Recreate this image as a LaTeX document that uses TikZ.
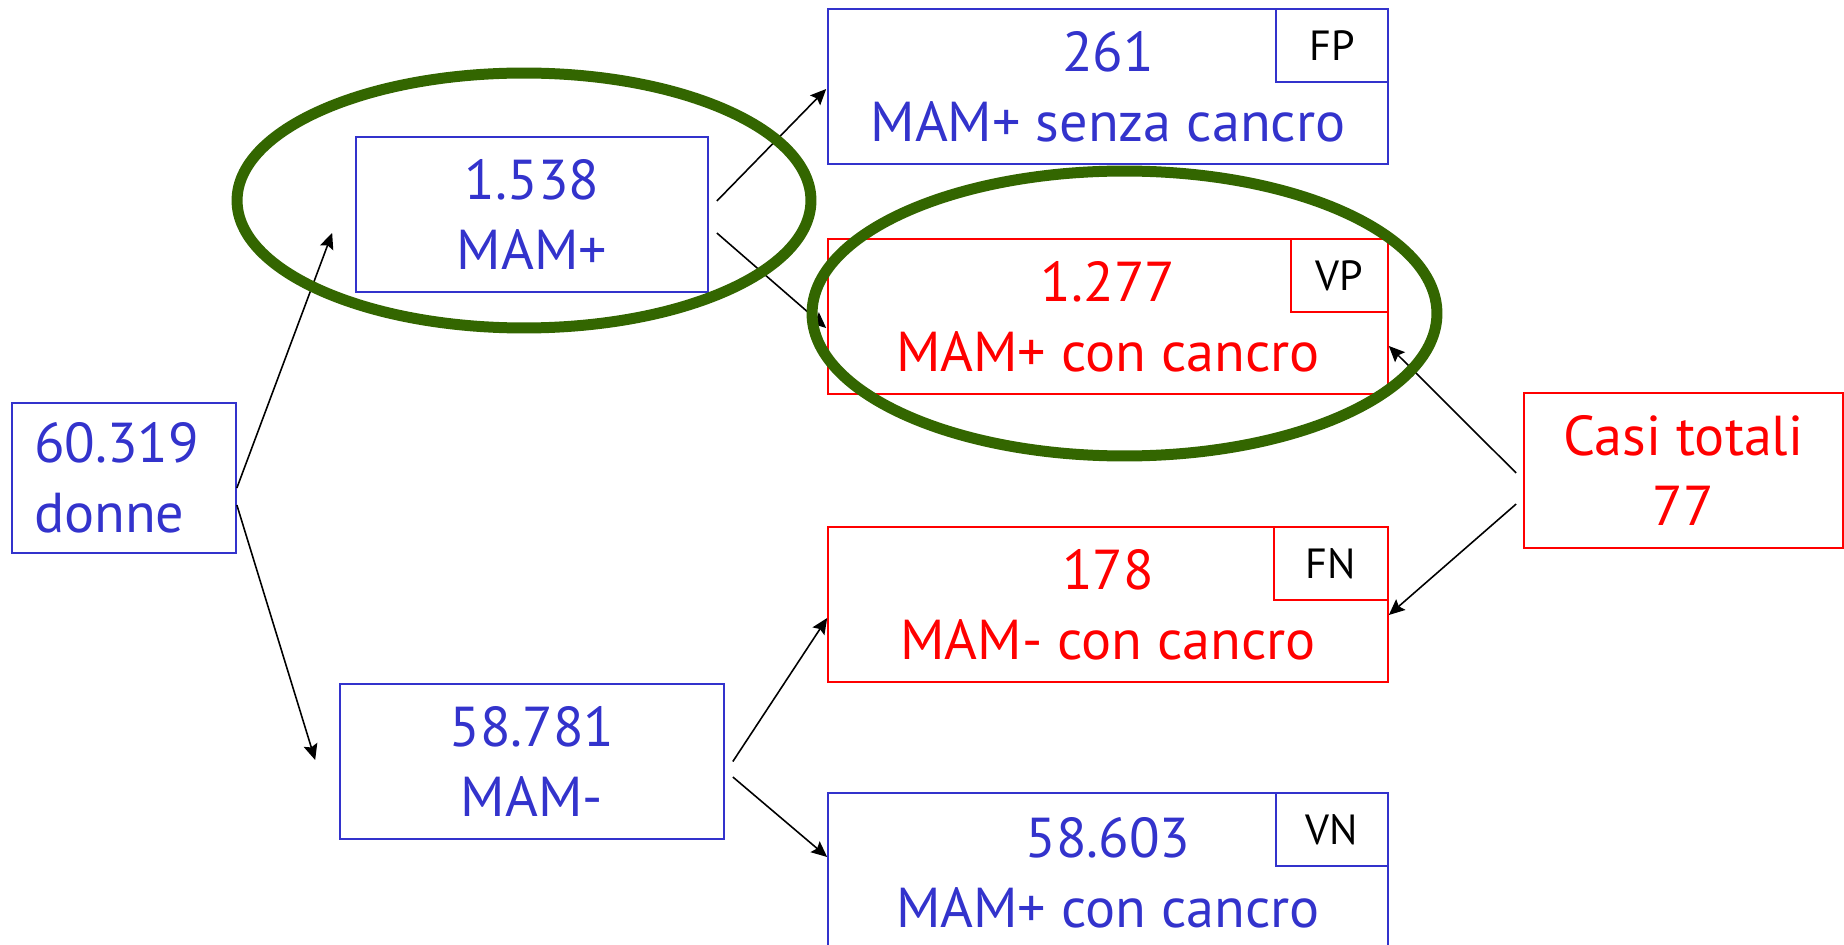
\documentclass[tikz,border=0pt]{standalone}
\usepackage{fontspec}
\setmainfont{PT Sans}
\usetikzlibrary{arrows.meta,calc}
\definecolor{blau}{RGB}{51,51,204}
\definecolor{rot}{RGB}{255,0,0}
\definecolor{gruen}{RGB}{51,102,0}
\begin{document}
\begin{tikzpicture}[
x=0.02cm, y=-0.02cm,
>={Stealth[length=9pt,width=8pt,inset=1.5pt]},
kasten/.style={draw=blau, text=blau, line width=1pt, align=center, inner sep=0pt, minimum height=3.1cm, font=\fontsize{32}{40}\selectfont},
rotkasten/.style={kasten, draw=rot, text=rot},
marke/.style={draw, line width=1pt, text=black, anchor=north east, minimum height=1.46cm, inner sep=0pt, font=\fontsize{24}{28}\selectfont},
ring/.style={draw=gruen, line width=0.22cm},
pfeil/.style={->, line width=0.9pt},
]
\useasboundingbox (0,0) rectangle (1844,945);

% Kaesten
\node[kasten, align=left, text width=3.6cm, inner xsep=0.44cm, minimum height=3cm] (donne) at (124,478) {60.319\\donne};
\node[kasten, minimum width=7.04cm] (mamp) at (532,214.5) {1.538\\MAM+};
\node[kasten, minimum width=7.68cm] (mamm) at (532,761.5) {58.781\\MAM-};

\node[kasten, minimum width=11.2cm] (fp) at (1108,86.5) {261\\MAM+ senza cancro};
\node[rotkasten, minimum width=11.2cm] (vp) at (1108,316.5) {1.277\\MAM+ con cancro};
\node[rotkasten, minimum width=11.2cm] (fn) at (1108,604.5) {178\\MAM- con cancro};
\node[kasten, minimum width=11.2cm, minimum height=3.2cm] (vn) at (1108,873) {58.603\\MAM+ con cancro};

\node[rotkasten, minimum width=6.38cm] (casi) at (1683.5,470.5) {Casi totali\\77};

% Marken
\node[marke, draw=blau, minimum width=2.24cm] (fpmarke) at (fp.north east) {FP};
\node[marke, draw=rot, minimum width=1.94cm] (vpmarke) at (vp.north east) {VP};
\node[marke, draw=rot, minimum width=2.28cm] (fnmarke) at (fn.north east) {FN};
\node[marke, draw=blau, minimum width=2.24cm] (vnmarke) at (vn.north east) {VN};

% Pfeile
\draw[pfeil] ($(donne.east)+(0,10)$) -- ($(mamp.west)+(-23,18.5)$);
\draw[pfeil] ($(donne.east)+(0,27)$) -- ($(mamm.west)+(-24,-1.5)$);
\draw[pfeil] ($(mamp.east)+(8,-13.5)$) -- ($(fp.west)+(-1,2.5)$);
\draw[pfeil] ($(mamp.east)+(8,18.5)$) -- ($(vp.west)+(-1,11.5)$);
\draw[pfeil] ($(mamm.east)+(8,0)$) -- ($(fn.west)+(0,13.5)$);
\draw[pfeil] ($(mamm.east)+(8,15.5)$) -- ($(vn.west)+(0,-16)$);
\draw[pfeil] ($(casi.west)+(-7,2.5)$) -- ($(vp.east)+(0,29.5)$);
\draw[pfeil] ($(casi.west)+(-7,33.5)$) -- ($(fn.east)+(0,10.5)$);

% Ringe
\draw[ring] (524,200.5) ellipse [x radius=5.74cm, y radius=2.55cm];
\draw[ring] (1124.5,313.5) ellipse [x radius=6.25cm, y radius=2.85cm];

\end{tikzpicture}
\end{document}
